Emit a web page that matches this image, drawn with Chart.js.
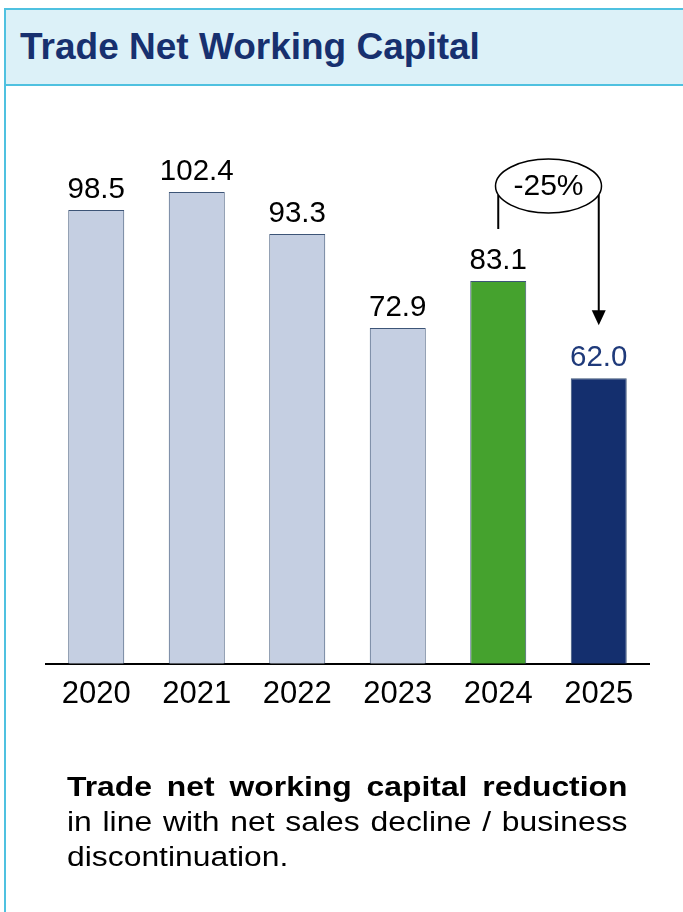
<!DOCTYPE html>
<html>
<head>
<meta charset="utf-8">
<script src="https://cdn.jsdelivr.net/npm/chart.js@4.4.1/dist/chart.umd.min.js"></script>
<style>
  html, body { margin: 0; padding: 0; background: #fff; }
  body { width: 683px; height: 912px; position: relative; overflow: hidden;
         font-family: "Liberation Sans", Arial, sans-serif; }
  #frame { position: absolute; left: 4px; top: 8px; width: 2px; height: 904px; background: #4fc1e0; }
  #header { position: absolute; left: 4px; top: 8px; width: 700px; height: 74px;
            background: #dcf1f8; border-top: 2px solid #4fc1e0; border-bottom: 2px solid #4fc1e0; }
  #title { position: absolute; left: 20px; top: 25px; font-size: 37px; font-weight: bold;
           color: #17306f; line-height: 44px; white-space: nowrap; }
  #chart { position: absolute; left: 0; top: 0; }
  .note { position: absolute; left: 67px; width: 475px; font-size: 27px; color: #000;
          line-height: 30px; white-space: nowrap; transform: scaleX(1.18); transform-origin: 0 0; }
  .just { text-align: justify; text-align-last: justify; white-space: normal; }
</style>
</head>
<body>
<div id="header"></div>
<div id="frame"></div>
<div id="title">Trade Net Working Capital</div>
<canvas id="chart" width="683" height="912"></canvas>
<div class="note just" style="top:772px;font-weight:bold;">Trade net working capital reduction</div>
<div class="note just" style="top:807px;">in line with net sales decline / business</div>
<div class="note" style="top:842px;">discontinuation.</div>
<script>
// Data
const years = ['2020', '2021', '2022', '2023', '2024', '2025'];
const nwc = [98.5, 102.4, 93.3, 72.9, 83.1, 62.0];
const changeLabel = '-25%';

// Styles
const barColors = ['#c5cfe2', '#c5cfe2', '#c5cfe2', '#c5cfe2', '#45a22e', '#142f6e'];
const labelColors = ['#000', '#000', '#000', '#000', '#000', '#1f3a7a'];
const FONT = '"Liberation Sans", Arial, sans-serif';

// Value labels above bars
const valueLabels = {
    id: 'valueLabels',
    afterDatasetsDraw(chart) {
        const ctx = chart.ctx;
        const meta = chart.getDatasetMeta(0);
        ctx.save();
        ctx.font = '29.5px ' + FONT;
        ctx.textAlign = 'center';
        ctx.textBaseline = 'alphabetic';
        meta.data.forEach((bar, i) => {
            ctx.fillStyle = labelColors[i];
            ctx.fillText(nwc[i].toFixed(1), bar.x, bar.y - 12);
        });
        ctx.restore();
    }
};

// -25% change bubble with arrow from 2024 to 2025
const changeArrow = {
    id: 'changeArrow',
    afterDatasetsDraw(chart) {
        const ctx = chart.ctx;
        const meta = chart.getDatasetMeta(0);
        const a = meta.data[4], b = meta.data[5];
        const cx = (a.x + b.x) / 2;
        const cy = chart.scales.y.getPixelForValue(102.4) - 6;
        const rx = 53, ry = 27;
        const dx = (b.x - a.x) / 2;
        const joinY = cy + ry * Math.sqrt(Math.max(0, 1 - (dx / rx) * (dx / rx)));
        const startY = a.y - 52;
        const tipY = b.y - 53;

        ctx.save();
        ctx.strokeStyle = '#000';
        ctx.fillStyle = '#000';
        ctx.lineWidth = 2;
        ctx.beginPath();
        ctx.moveTo(a.x, startY);
        ctx.lineTo(a.x, joinY);
        ctx.stroke();
        ctx.beginPath();
        ctx.moveTo(b.x, joinY);
        ctx.lineTo(b.x, tipY - 14);
        ctx.stroke();
        ctx.beginPath();
        ctx.moveTo(b.x - 7, tipY - 15);
        ctx.lineTo(b.x + 7, tipY - 15);
        ctx.lineTo(b.x, tipY);
        ctx.closePath();
        ctx.fill();

        ctx.lineWidth = 1.5;
        ctx.beginPath();
        ctx.ellipse(cx, cy, rx, ry, 0, 0, Math.PI * 2);
        ctx.fillStyle = '#fff';
        ctx.fill();
        ctx.stroke();

        ctx.fillStyle = '#000';
        ctx.font = '30px ' + FONT;
        ctx.textAlign = 'center';
        ctx.textBaseline = 'middle';
        ctx.fillText(changeLabel, cx, cy + 1);
        ctx.restore();
    }
};

new Chart(document.getElementById('chart'), {
    type: 'bar',
    data: {
        labels: years,
        datasets: [{
            data: nwc,
            backgroundColor: barColors,
            borderColor: '#3d5577',
            borderWidth: 1,
            barPercentage: 0.557,
            categoryPercentage: 1.0
        }]
    },
    options: {
        responsive: false,
        animation: false,
        devicePixelRatio: 1,
        layout: { padding: { top: 111, left: 46, right: 34, bottom: 187 } },
        plugins: {
            legend: { display: false },
            title: { display: false },
            tooltip: { enabled: false }
        },
        scales: {
            y: { display: false, min: 0, max: 120 },
            x: {
                grid: { display: false, drawTicks: false, tickLength: 0 },
                border: { display: true, color: '#000', width: 2 },
                ticks: {
                    color: '#000',
                    padding: 12,
                    font: { family: FONT, size: 31 }
                }
            }
        }
    },
    plugins: [valueLabels, changeArrow]
});
</script>
</body>
</html>
